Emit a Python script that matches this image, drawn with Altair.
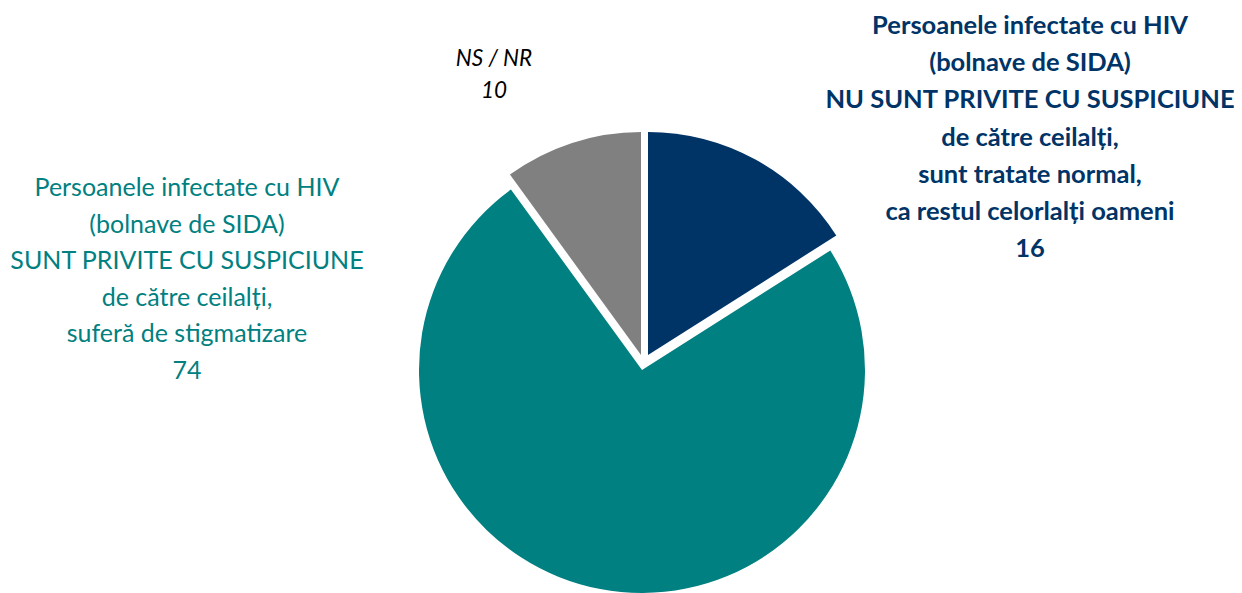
import altair as alt
import pandas as pd

# ---- data ----
categories = ["NU SUNT PRIVITE CU SUSPICIUNE", "SUNT PRIVITE CU SUSPICIUNE", "NS / NR"]
values = [16, 74, 10]
slice_order = [1, 2, 3]
colors = ["#003366", "#008080", "#808080"]

lines_navy = ["Persoanele infectate cu HIV", "(bolnave de SIDA)", "NU SUNT PRIVITE CU SUSPICIUNE",
              "de către ceilalți,", "sunt tratate normal,", "ca restul celorlalți oameni"]
lines_teal = ["Persoanele infectate cu HIV", "(bolnave de SIDA)", "SUNT PRIVITE CU SUSPICIUNE",
              "de către ceilalți,", "suferă de stigmatizare"]
lines_gray = ["NS / NR"]

df = pd.DataFrame({"cat": categories, "value": values, "ord": slice_order})
labels = pd.DataFrame({
    "cat": categories,
    "label": ["\n".join(lines_navy + [str(values[0])]),
              "\n".join(lines_teal + [str(values[1])]),
              "\n".join(lines_gray + [str(values[2])])],
})

R = 223

base = alt.Chart(df).encode(
    theta=alt.Theta("value:Q", stack=True),
    order=alt.Order("ord:Q"),
    color=alt.Color("cat:N", scale=alt.Scale(domain=categories, range=colors), legend=None),
)


def slice_layer(cat, cx, cy):
    return base.mark_arc(radius=R).encode(
        x=alt.value(cx),
        y=alt.value(cy),
        opacity=alt.condition(alt.datum.cat == cat, alt.value(1), alt.value(0)),
    )


pie = alt.layer(
    slice_layer(categories[1], 634, 362),
    slice_layer(categories[0], 640, 347),
    slice_layer(categories[2], 633, 347),
)


def text_layer(cat, cx, cy, color, weight, style, size, lh):
    return alt.Chart(labels).transform_filter(alt.datum.cat == cat).mark_text(
        lineBreak="\n", align="center", baseline="middle", font="Lato",
        fontSize=size, fontWeight=weight, fontStyle=style, color=color, lineHeight=lh,
    ).encode(x=alt.value(cx), y=alt.value(cy), text="label:N")


texts = alt.layer(
    text_layer(categories[0], 1022, 18, colors[0], "bold", "normal", 25.5, 37.2),
    text_layer(categories[1], 179, 180, colors[1], "normal", "normal", 25, 36.6),
    text_layer(categories[2], 486, 51, "#000000", "normal", "italic", 22.5, 32),
)

chart = alt.layer(pie, texts).properties(
    width=1226, height=585, autosize=alt.AutoSizeParams(type="none"), padding=0
).configure_view(stroke=None)

chart.save("out.html", embed_options={"renderer": "svg", "actions": False})
